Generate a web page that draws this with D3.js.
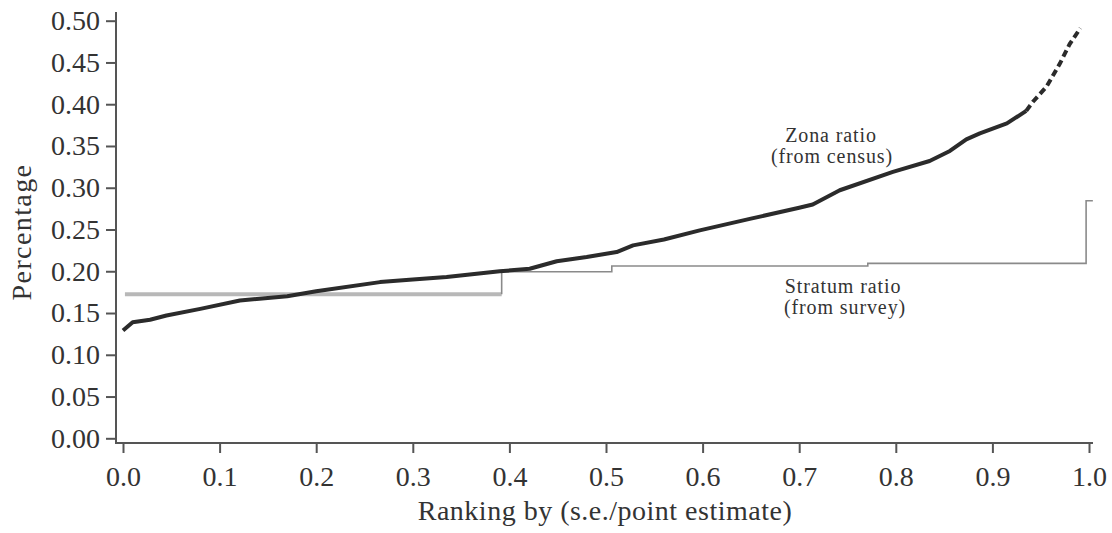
<!DOCTYPE html>
<html>
<head>
<meta charset="utf-8">
<script src="https://cdn.jsdelivr.net/npm/d3@7/dist/d3.min.js"></script>
<style>
  html, body { margin: 0; padding: 0; background: #fff; }
  svg { display: block; }
  text { font-family: "Liberation Serif", "Times New Roman", serif; fill: #333; }
</style>
</head>
<body>
<svg id="chart" width="1112" height="533"></svg>
<script>
// Ranking position (share of zones ordered by s.e./point estimate)
const zonaRank = [0.000, 0.010, 0.028, 0.045, 0.080, 0.121, 0.170, 0.200, 0.266, 0.300,
                  0.335, 0.390, 0.421, 0.449, 0.480, 0.511, 0.528, 0.560, 0.597, 0.650,
                  0.700, 0.714, 0.742, 0.797, 0.835, 0.856, 0.873, 0.887, 0.915, 0.935,
                  0.942, 0.956, 0.970, 0.980, 0.991];
// Zona ratio from census
const zonaRatio = [0.129, 0.139, 0.142, 0.147, 0.155, 0.165, 0.170, 0.176, 0.187, 0.190,
                   0.193, 0.200, 0.203, 0.212, 0.217, 0.223, 0.231, 0.238, 0.249, 0.263,
                   0.276, 0.280, 0.297, 0.319, 0.332, 0.344, 0.358, 0.365, 0.377, 0.392,
                   0.403, 0.421, 0.449, 0.472, 0.491];
// Where the sparse upper tail begins
const tailStart = 0.935;

// Stratum ratio from survey: step function (start of each level, level value)
const stratumStart = [0.002, 0.392, 0.506, 0.771, 0.997];
const stratumLevel = [0.1724, 0.1995, 0.2063, 0.2080, 0.2845];
const stratumEnd = 1.004;
const stratumLast = 0.2095;

const xTicks = [0.0, 0.1, 0.2, 0.3, 0.4, 0.5, 0.6, 0.7, 0.8, 0.9, 1.0];
const yTicks = [0.00, 0.05, 0.10, 0.15, 0.20, 0.25, 0.30, 0.35, 0.40, 0.45, 0.50];

const svg = d3.select("#chart");
const x = d3.scaleLinear().domain([0, 1]).range([123, 1089]);
const y = d3.scaleLinear().domain([0, 0.5]).range([438.3, 20.7]);

const axisColor = "#555";
const fontSize = 28;

// Axes (offset SAS-style frame)
const gy = svg.append("g").attr("transform", "translate(116,0)")
  .call(d3.axisLeft(y).tickValues(yTicks).tickFormat(d3.format(".2f")).tickSize(10).tickPadding(6).tickSizeOuter(0));
const gx = svg.append("g").attr("transform", "translate(0,443)")
  .call(d3.axisBottom(x).tickValues(xTicks).tickFormat(d3.format(".1f")).tickSize(10).tickPadding(13).tickSizeOuter(0));
[gx, gy].forEach(g => {
  g.select(".domain").remove();
  g.selectAll(".tick line").attr("stroke", axisColor).attr("stroke-width", 2);
  g.selectAll(".tick text").attr("font-size", fontSize).attr("fill", "#333")
    .style("font-family", "'Liberation Serif', serif");
});
svg.append("line").attr("x1", 116).attr("x2", 116).attr("y1", 12).attr("y2", 444)
  .attr("stroke", axisColor).attr("stroke-width", 2);
svg.append("line").attr("x1", 115).attr("x2", 1093).attr("y1", 443).attr("y2", 443)
  .attr("stroke", axisColor).attr("stroke-width", 2);

// Axis titles
svg.append("text").attr("x", 605).attr("y", 520).attr("text-anchor", "middle")
  .attr("font-size", fontSize).style("letter-spacing", "0.5px")
  .text("Ranking by (s.e./point estimate)");
svg.append("text").attr("transform", "translate(31,232) rotate(-90)").attr("text-anchor", "middle")
  .attr("font-size", fontSize).style("letter-spacing", "1.4px")
  .text("Percentage");

// Stratum ratio step line
const stepPts = [];
stratumStart.forEach((s, i) => {
  if (i > 0) stepPts.push([s, stratumLevel[i - 1] === undefined ? stratumLevel[i] : (i === stratumStart.length - 1 ? stratumLast : stratumLevel[i - 1])]);
  stepPts.push([s, stratumLevel[i]]);
});
stepPts.push([stratumEnd, stratumLevel[stratumLevel.length - 1]]);
// adjust the level just before the final jump
stepPts[stepPts.length - 4][1] = stratumLast;
const line = d3.line().x(d => x(d[0])).y(d => y(d[1]));

// first long flat level drawn heavier (many overlapping units)
svg.append("path").attr("d", line([[stratumStart[0], stratumLevel[0]], [stratumStart[1], stratumLevel[0]]]))
  .attr("fill", "none").attr("stroke", "#b8b8b8").attr("stroke-width", 4);
svg.append("path").attr("d", line(stepPts.slice(1)))
  .attr("fill", "none").attr("stroke", "#8a8a8a").attr("stroke-width", 1.6);

// Zona ratio curve
const zona = zonaRank.map((r, i) => [r, zonaRatio[i]]);
const body = zona.filter(d => d[0] <= tailStart);
const tail = zona.filter(d => d[0] >= tailStart);
svg.append("path").attr("d", line(body))
  .attr("fill", "none").attr("stroke", "#2b2b2b").attr("stroke-width", 4)
  .attr("stroke-linejoin", "round");
svg.append("path").attr("d", line(tail))
  .attr("fill", "none").attr("stroke", "#2b2b2b").attr("stroke-width", 4)
  .attr("stroke-dasharray", "7,4");

// Annotations
const ann = [
  ["Zona ratio", 831, 141.5],
  ["(from census)", 832, 162.5],
  ["Stratum ratio", 843, 293],
  ["(from survey)", 845, 313.5]
];
svg.selectAll("text.ann").data(ann).enter().append("text").attr("class", "ann")
  .attr("x", d => d[1]).attr("y", d => d[2]).attr("text-anchor", "middle")
  .attr("font-size", 20).style("letter-spacing", "0.9px")
  .text(d => d[0]);
</script>
</body>
</html>
